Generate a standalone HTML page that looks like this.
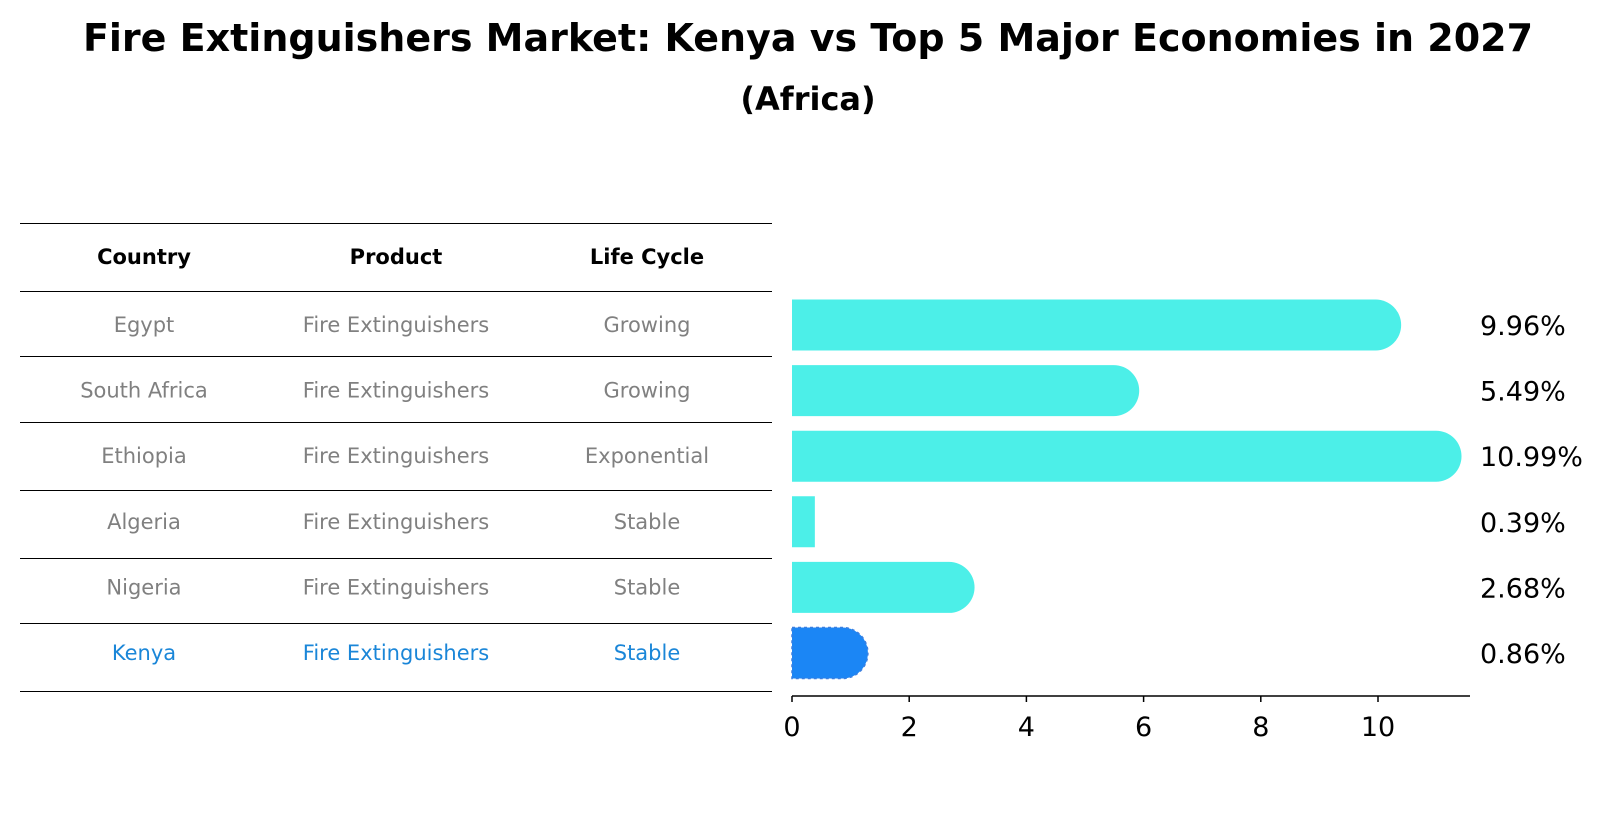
<!DOCTYPE html>
<html><head><meta charset="utf-8"><style>
body{margin:0;background:#fff;font-family:"Liberation Sans","DejaVu Sans",sans-serif}
</style></head><body>
<svg width="1604" height="823" xmlns="http://www.w3.org/2000/svg" font-family="DejaVu Sans, Liberation Sans, sans-serif">
<text x="808" y="51" text-anchor="middle" font-size="38" font-weight="bold">Fire Extinguishers Market: Kenya vs Top 5 Major Economies in 2027</text>
<text x="808" y="110" text-anchor="middle" font-size="32" font-weight="bold">(Africa)</text>
<g id="table"></g>
<g id="bars"></g>
</svg>
<script>
const countries=["Egypt","South Africa","Ethiopia","Algeria","Nigeria","Kenya"];
const products=["Fire Extinguishers","Fire Extinguishers","Fire Extinguishers","Fire Extinguishers","Fire Extinguishers","Fire Extinguishers"];
const lifeCycles=["Growing","Growing","Exponential","Stable","Stable","Stable"];
const values=[9.96,5.49,10.99,0.39,2.68,0.86];
const xTicks=[0,2,4,6,8,10];
const NS="http://www.w3.org/2000/svg";
function mk(t,a,p){const e=document.createElementNS(NS,t);for(const k in a)e.setAttribute(k,a[k]);p.appendChild(e);return e;}
const x=v=>792+v*58.6;
const rowY=i=>325+i*65.6;
const tbl=document.getElementById('table'),bars=document.getElementById('bars');
const lines=[223,291,356,422,490,558,623,691];
lines.forEach((ly,i)=>{const l=mk('line',{x1:20,x2:772,y1:ly+0.5,y2:ly+0.5,stroke:'#000','stroke-width':1,'shape-rendering':'crispEdges'},tbl);

});
const cx=[144,396,647];
["Country","Product","Life Cycle"].forEach((h,j)=>{const t=mk('text',{x:cx[j],y:264,'text-anchor':'middle','font-size':21,'font-weight':'bold'},tbl);t.textContent=h;

});
countries.forEach((c,i)=>{
 const col=c==="Kenya"?"#1a86d8":"#808080";
 [c,products[i],lifeCycles[i]].forEach((s,j)=>{const t=mk('text',{x:cx[j],y:rowY(i)+7,'text-anchor':'middle','font-size':21,fill:col},tbl);t.textContent=s;
 
 });
 const h=51,y0=rowY(i)-h/2,xe=x(values[i]);
 const fill=c==="Kenya"?"#1b86f5":"#4cefe8";
 let d;
 if(values[i]>0.5){const r=h/2;d=`M${x(0)},${y0}H${xe}A${r},${r} 0 0 1 ${xe},${y0+h}H${x(0)}Z`;}
 else d=`M${x(0)},${y0}H${xe}V${y0+h}H${x(0)}Z`;
 const p=mk('path',{d:d,fill:fill},bars);
 if(c==="Kenya"){p.setAttribute('stroke','#3a7fe0');p.setAttribute('stroke-dasharray','3,3');p.setAttribute('stroke-width','1.5');}
 
 
 const t=mk('text',{x:1480,y:rowY(i)+10,'font-size':27},bars);t.textContent=values[i].toFixed(2)+'%';
 
 
});
const ax=mk('line',{x1:x(0),x2:1470,y1:696,y2:696,stroke:'#000','stroke-width':1.5},bars);


xTicks.forEach(v=>{const tk=mk('line',{x1:x(v),x2:x(v),y1:696,y2:702,stroke:'#000','stroke-width':1.5},bars);


const t=mk('text',{x:x(v),y:736,'text-anchor':'middle','font-size':27},bars);t.textContent=v;

});
</script>
</body></html>
